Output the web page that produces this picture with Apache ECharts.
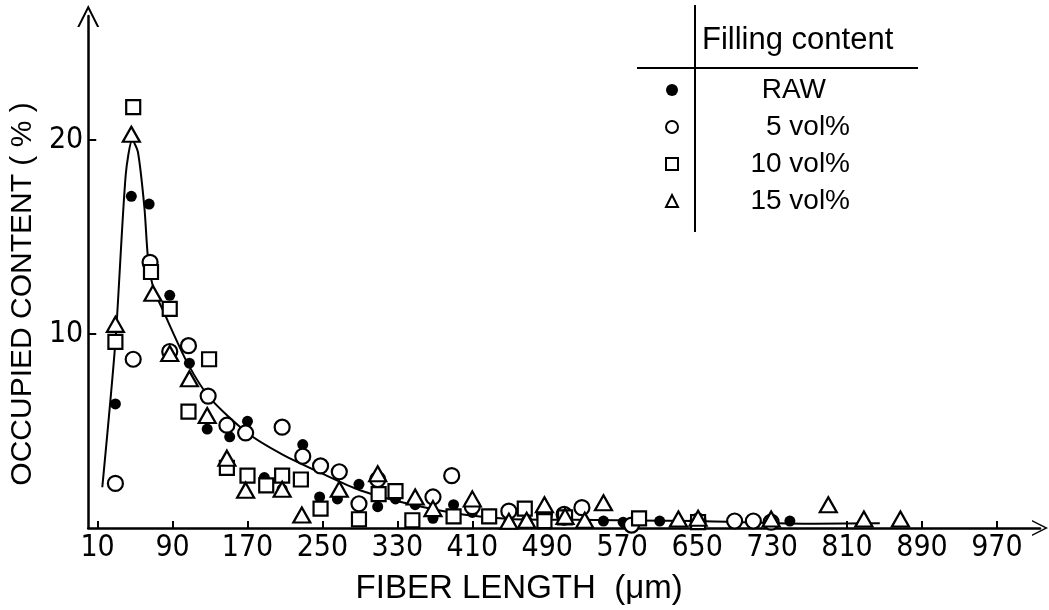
<!DOCTYPE html>
<html>
<head>
<meta charset="utf-8">
<script src="https://cdn.jsdelivr.net/npm/echarts@6/dist/echarts.min.js"></script>
<style>
  html, body { margin: 0; padding: 0; background: #fff; }
  #chart { width: 1049px; height: 610px; }
</style>
</head>
<body>
<div id="chart"></div>
<script>
// fiber length (um) vs occupied content (%)
var rawData = [
  [29, 6.4], [46, 17.1], [65, 16.7], [87, 12.0], [108, 8.5], [127, 5.1], [151, 4.7],
  [170, 5.5], [188, 2.6], [207, 2.0], [229, 4.3], [247, 1.6], [266, 1.5], [289, 2.25],
  [309, 1.1], [328, 1.5], [349, 1.2], [368, 0.5], [390, 1.2], [410, 0.8], [428, 0.6],
  [449, 0.3], [468, 0.4], [508, 0.4], [550, 0.36], [571, 0.3], [588, 0.45], [610, 0.36],
  [749, 0.36]
]
var vol5Data = [
  [29, 2.3], [48, 8.7], [66, 13.7], [87, 9.1], [107, 9.4], [128, 6.8], [148, 5.3],
  [168, 4.9], [207, 5.2], [229, 3.7], [248, 3.2], [268, 2.9], [289, 1.25], [309, 2.5],
  [368, 1.6], [388, 2.7], [410, 1.1], [449, 0.87], [487, 0.7], [508, 0.7], [527, 1.05],
  [580, 0.15], [651, 0.35], [690, 0.36], [710, 0.36], [729, 0.3]
]
var vol10Data = [
  [29, 9.6], [48, 21.7], [67, 13.2], [87, 11.3], [107, 6.0], [129, 8.7], [148, 3.1],
  [170, 2.7], [190, 2.2], [207, 2.7], [227, 2.5], [248, 1.0], [289, 0.45], [310, 1.75],
  [328, 1.9], [346, 0.4], [390, 0.6], [428, 0.6], [466, 1.0], [487, 0.35], [509, 0.55],
  [588, 0.5], [651, 0.3]
]
var vol15Data = [
  [29, 10.5], [46, 20.3], [69, 12.1], [87, 9.0], [108, 7.7], [127, 5.8], [148, 3.6],
  [168, 1.95], [207, 2.0], [228, 0.67], [268, 2.0], [309, 2.8], [349, 1.6], [368, 1.0],
  [410, 1.5], [449, 0.35], [468, 0.4], [487, 1.2], [509, 0.6], [530, 0.4], [550, 1.3],
  [630, 0.46], [651, 0.5], [729, 0.46], [790, 1.2], [828, 0.46], [867, 0.46]
]
// hand-drawn fitted curve
var fitCurve = [
  [15, 2.1], [29, 9.6], [40, 18.2], [47, 20.0], [53, 19.4], [60, 16.5], [64, 13.8],
  [70, 12.3], [80, 11.2], [106, 8.5], [130, 6.7], [170, 4.9], [207, 3.8], [250, 2.8],
  [290, 1.95], [346, 1.2], [400, 0.7], [450, 0.47], [520, 0.42], [650, 0.36],
  [775, 0.22], [845, 0.25]
]
var xTicks = [10, 90, 170, 250, 330, 410, 490, 570, 650, 730, 810, 890, 970]
var yTicks = [10, 20]

var chevron = 'path://M0,20 L10,0 L20,20 L18,20 L10,4 L2,20 Z'
var tickFont = '"Liberation Sans Narrow", "DejaVu Sans Condensed", sans-serif'
var textFont = '"Liberation Sans", Arial, sans-serif'
var hollow = { color: '#fff', borderColor: '#000', borderWidth: 2.2, opacity: 1 }

var chart = echarts.init(document.getElementById('chart'))
chart.setOption({
  animation: false,
  grid: { left: 85, right: 9, top: 16, bottom: 79 },
  xAxis: {
    type: 'value',
    min: 0,
    max: 1016,
    name: 'FIBER LENGTH  (\u03bcm)',
    nameLocation: 'middle',
    nameGap: 44,
    nameTextStyle: { fontFamily: textFont, fontSize: 33, color: '#000', padding: [0, 90, 0, 0] },
    axisLine: {
      show: true,
      onZero: false,
      symbol: ['none', chevron],
      symbolSize: [22, 16],
      lineStyle: { color: '#000', width: 2.5 }
    },
    axisTick: { show: true, inside: true, length: 7, customValues: xTicks, lineStyle: { color: '#000', width: 2 } },
    axisLabel: { customValues: xTicks, margin: 5, fontFamily: tickFont, fontSize: 30, color: '#000' },
    splitLine: { show: false }
  },
  yAxis: {
    type: 'value',
    min: 0,
    max: 26.4,
    name: 'OCCUPIED CONTENT ( % )',
    nameLocation: 'middle',
    nameGap: 46,
    nameRotate: 90,
    nameTextStyle: { fontFamily: textFont, fontSize: 30, color: '#000', padding: [0, 44, 0, 0] },
    axisLine: {
      show: true,
      onZero: false,
      symbol: ['none', chevron],
      symbolSize: [26, 22],
      lineStyle: { color: '#000', width: 2.5 }
    },
    axisTick: { show: true, inside: true, length: 8, customValues: yTicks, lineStyle: { color: '#000', width: 2 } },
    axisLabel: { customValues: yTicks, margin: 5, fontFamily: tickFont, fontSize: 30, color: '#000' },
    splitLine: { show: false }
  },
  legend: {
    orient: 'vertical',
    left: 660,
    top: 71,
    itemWidth: 12,
    itemHeight: 12,
    itemGap: 9,
    selectedMode: false,
    data: ['RAW', '5 vol%', '10 vol%', '15 vol%'],
    formatter: function (name) {
      return name === 'RAW' ? '{c|RAW}' : '{r|' + name + '}'
    },
    textStyle: {
      color: '#000',
      fontFamily: textFont,
      fontSize: 28,
      rich: {
        r: { width: 167, align: 'right', fontFamily: textFont, fontSize: 28, lineHeight: 26, color: '#000' },
        c: { width: 143, align: 'right', fontFamily: textFont, fontSize: 28, lineHeight: 26, color: '#000' }
      }
    }
  },
  graphic: [
    { type: 'line', shape: { x1: 695, y1: 5, x2: 695, y2: 232 }, style: { stroke: '#000', lineWidth: 2 } },
    { type: 'line', shape: { x1: 637, y1: 68, x2: 918, y2: 68 }, style: { stroke: '#000', lineWidth: 2 } },
    {
      type: 'text', left: 702, top: 25,
      style: { text: 'Filling content', fill: '#000', font: '31px ' + textFont }
    }
  ],
  series: [
    {
      name: 'fit',
      type: 'line',
      data: fitCurve,
      showSymbol: false,
      smooth: 0.25,
      silent: true,
      lineStyle: { color: '#000', width: 2 },
      z: 1
    },
    { name: 'RAW', type: 'scatter', symbol: 'circle', symbolSize: 11, data: rawData, itemStyle: { color: '#000', opacity: 1 }, z: 3 },
    { name: '5 vol%', type: 'scatter', symbol: 'circle', symbolSize: 15, data: vol5Data, itemStyle: hollow, z: 3 },
    { name: '10 vol%', type: 'scatter', symbol: 'rect', symbolSize: 14, data: vol10Data, itemStyle: hollow, z: 3 },
    { name: '15 vol%', type: 'scatter', symbol: 'triangle', symbolSize: [17, 15], data: vol15Data, itemStyle: hollow, z: 3 }
  ]
})
</script>
</body>
</html>
